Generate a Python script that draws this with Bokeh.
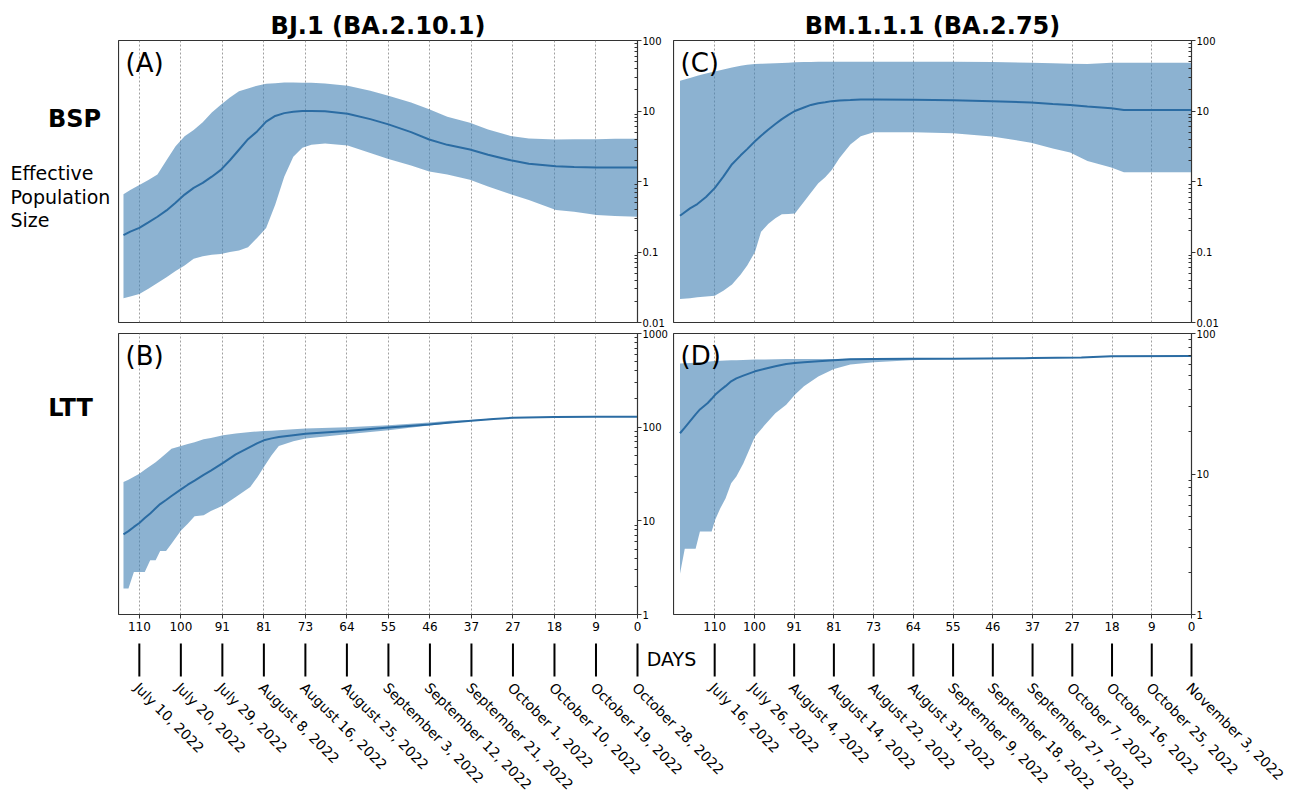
import math
from bokeh.plotting import figure
from bokeh.models import Range1d, FixedTicker, Label, CustomJSTickFormatter, Grid
from bokeh.layouts import row, column
from bokeh.embed import file_html
from bokeh.resources import INLINE
from bokeh.core.properties import value

FONT = "DejaVu Sans"
FILL = "steelblue"
LINE = "#2b6ca3"

# ---------------- data ----------------
day_ticks = [110 * (12 - i) / 12 for i in range(13)]
day_labels = ["110", "100", "91", "81", "73", "64", "55", "46", "37", "27", "18", "9", "0"]
dates_bj1 = ["July 10, 2022", "July 20, 2022", "July 29, 2022", "August 8, 2022", "August 16, 2022",
             "August 25, 2022", "September 3, 2022", "September 12, 2022", "September 21, 2022",
             "October 1, 2022", "October 10, 2022", "October 19, 2022", "October 28, 2022"]
dates_bm = ["July 16, 2022", "July 26, 2022", "August 4, 2022", "August 14, 2022", "August 22, 2022",
            "August 31, 2022", "September 9, 2022", "September 18, 2022", "September 27, 2022",
            "October 7, 2022", "October 16, 2022", "October 25, 2022", "November 3, 2022"]

# (A) BSP, BJ.1
a_days = [113.5, 112, 110, 108, 106, 104, 102, 100, 98, 96, 94, 92, 90, 88, 86, 84, 82, 80, 78, 76, 74, 72,
          69, 64, 59, 55, 50, 46, 42, 37, 33, 28, 24, 18, 14, 9, 5, 0]
a_median = [0.173, 0.195, 0.220, 0.263, 0.316, 0.389, 0.501, 0.652, 0.813, 0.955, 1.17, 1.46, 2.00, 2.82,
            3.98, 5.13, 7.08, 8.51, 9.33, 9.77, 10.0, 10.0, 9.89, 9.16, 7.67, 6.46, 5.01, 3.94, 3.31, 2.85,
            2.40, 2.00, 1.78, 1.64, 1.60, 1.58, 1.58, 1.58]
a_upper = [0.659, 0.759, 0.895, 1.05, 1.26, 2.00, 3.16, 4.37, 5.37, 6.92, 9.55, 12.3, 15.5, 19.1, 20.9, 22.9,
           24.3, 24.8, 25.4, 25.4, 25.1, 25.1, 24.5, 22.8, 19.3, 16.4, 13.2, 10.6, 8.32, 6.81, 5.47, 4.42,
           4.07, 3.94, 3.98, 3.98, 4.03, 4.03]
a_lower = [0.0220, 0.0234, 0.0254, 0.0302, 0.0363, 0.0437, 0.0537, 0.0646, 0.0804, 0.0871, 0.0912, 0.0933,
           0.100, 0.105, 0.117, 0.158, 0.219, 0.468, 1.17, 2.24, 3.02, 3.31, 3.45, 3.24, 2.54, 2.08, 1.69,
           1.39, 1.26, 1.06, 0.851, 0.661, 0.547, 0.394, 0.372, 0.334, 0.324, 0.316]

# (B) LTT, BJ.1
b_days = [113.5, 112.4, 111.2, 110.0, 108.8, 107.6, 106.4, 105.4, 104.1, 102.9, 100.8, 99.3, 97.8, 95.8,
          94.2, 91.5, 88.7, 85.5, 83.9, 82.5, 80.8, 79.2, 76.0, 73.3, 64.2, 55.0, 46.0, 41.3, 36.7, 31.8,
          27.6, 18.4, 9.2, 0]
b_median = [7.16, 7.76, 8.61, 9.48, 10.7, 12.0, 13.6, 15.1, 16.7, 18.4, 21.7, 24.3, 26.9, 30.9, 34.3, 41.5,
            51.3, 61.7, 67.6, 72.4, 75.9, 78.5, 82.2, 85.3, 91.2, 98.9, 107, 112, 117, 122, 126, 128, 129, 129]
b_upper = [26.0, 27.5, 29.5, 31.9, 35.1, 38.5, 42.2, 46.2, 52.5, 59.0, 63.1, 66.1, 69.2, 74.1, 76.7, 81.8,
           85.5, 88.7, 89.9, 91.2, 91.8, 92.7, 94.8, 96.6, 100, 105, 112, 117, 119, 124, 126, 128, 129, 129]
b_lower = [1.9, 1.9, 2.85, 2.85, 2.85, 3.8, 3.8, 4.75, 4.75, 5.7, 7.9, 9.3, 11.2, 11.5, 12.7, 14.6, 18.0,
           23.0, 29.4, 37.6, 50.1, 63.1, 70.6, 75.5, 83.9, 92.7, 104, 110, 117, 122, 125, 127, 129, 129]

# (C) BSP, BM.1.1.1
c_days = [118.0, 115.7, 114.0, 112, 110, 108, 106, 104, 102.5, 100.7, 99.3, 97.6, 96, 94.5, 93, 91.5, 89.4,
          87.8, 86.1, 84.5, 83, 81.2, 78.7, 76.3, 73.3, 64, 55, 46, 37, 32, 28, 24, 18.5, 15.6, 9.4, 0]
c_median = [0.327, 0.416, 0.479, 0.603, 0.805, 1.17, 1.76, 2.35, 2.88, 3.72, 4.47, 5.47, 6.53, 7.67, 8.81,
            10.0, 11.2, 12.2, 12.9, 13.3, 13.8, 14.1, 14.3, 14.5, 14.5, 14.4, 14.2, 13.7, 13.2, 12.6, 12.2,
            11.6, 10.9, 10.3, 10.3, 10.3]
c_upper = [26.9, 29.5, 31.6, 33.9, 36.3, 38.9, 41.3, 43.7, 45.2, 46.5, 46.8, 47.1, 47.4, 47.9, 48.4, 49.0,
           49.4, 49.7, 49.9, 50.0, 50.1, 50.1, 50.1, 50.1, 50.1, 50.1, 50.1, 49.5, 48.4, 47.6, 46.9, 46.5,
           48.5, 48.5, 48.5, 48.5]
c_lower = [0.0215, 0.0221, 0.0228, 0.0234, 0.0240, 0.0282, 0.0347, 0.0479, 0.0646, 0.100, 0.193, 0.251,
           0.302, 0.343, 0.347, 0.353, 0.518, 0.692, 0.946, 1.15, 1.45, 2.15, 3.34, 4.40, 5.01, 5.01, 4.85,
           4.35, 3.55, 2.95, 2.57, 1.95, 1.58, 1.35, 1.35, 1.35]

# (D) LTT, BM.1.1.1
d_days = [118.0, 116.9, 114.4, 113.4, 111.6, 110.7, 109.9, 108.7, 107.5, 106.2, 105.0, 103.4, 100.7, 98.4,
          96.0, 93.5, 91.5, 89.4, 86.1, 82.5, 78.7, 73.3, 64.8, 55.1, 38.6, 36.6, 25.4, 18.5, 0]
d_median = [19.5, 21.4, 26.6, 28.8, 32.0, 34.3, 36.6, 39.4, 42.2, 45.7, 47.9, 50.1, 53.8, 56.2, 58.5, 60.7,
            61.7, 62.4, 63.5, 64.6, 65.6, 65.9, 66.1, 66.2, 66.7, 67.0, 67.5, 68.9, 69.2]
d_upper = [61.1, 61.4, 62.0, 62.3, 63.0, 63.4, 63.8, 64.0, 64.2, 64.4, 64.6, 64.9, 65.2, 65.4, 65.6, 65.8,
           65.9, 65.9, 65.9, 65.9, 66.0, 66.2, 66.3, 66.4, 66.9, 67.2, 67.7, 69.1, 69.4]
d_lower = [1.95, 2.94, 2.94, 3.9, 3.9, 3.9, 4.7, 5.7, 6.7, 8.6, 9.6, 11.9, 18.5, 22.4, 27.1, 31.1, 36.6, 42.1,
           49.5, 56.0, 60.1, 62.4, 64.6, 66.0, 66.5, 66.9, 67.4, 68.8, 69.0]

# ---------------- geometry ----------------
LABEL_W = 118
FW_L, FW_R, BR = 519, 518, 36
TOP_B, FH_TOP, GAP_A, GAP_B, FH_BOT, BOT_B = 40, 282, 5, 6, 281, 26
X_START_L, X_START_R = 114.6, 119.5
TOTAL_W, BOTTOM_H = 1300, 158
COL_H = TOP_B + FH_TOP + GAP_A + GAP_B + FH_BOT + BOT_B


def log_ticker(lo_exp, hi_exp):
    majors = [10.0 ** e for e in range(lo_exp, hi_exp + 1)]
    minors = [m * 10.0 ** e for e in range(lo_exp, hi_exp) for m in range(2, 10)]
    return FixedTicker(ticks=majors, minor_ticks=minors)


def panel(days, med, lo, hi, xstart, fw, fh, lo_exp, hi_exp, title, tag, top, bottom, show_x_axis):
    kw = dict(title=title) if title else {}
    p = figure(frame_width=fw, frame_height=fh, x_range=Range1d(xstart, 0),
               y_range=Range1d(10.0 ** lo_exp, 10.0 ** hi_exp), y_axis_type="log",
               y_axis_location="right", x_axis_location="below" if show_x_axis else None,
               toolbar_location=None, output_backend="svg",
               min_border_left=0, min_border_right=BR, min_border_top=top, min_border_bottom=bottom, **kw)
    p.background_fill_color = "white"
    p.border_fill_color = "white"
    p.outline_line_color = "#333333"
    p.outline_line_width = 1.2

    p.varea(x=days, y1=lo, y2=hi, fill_color=FILL, fill_alpha=0.62)
    p.line(days, med, line_color=LINE, line_width=2)

    if show_x_axis:
        xa = p.xaxis[0]
        xa.ticker = FixedTicker(ticks=day_ticks)
        xa.major_label_overrides = {t: l for t, l in zip(day_ticks, day_labels)}
        xa.major_tick_in = 0
        xa.major_tick_out = 4
        xa.minor_tick_out = 0
        xa.minor_tick_in = 0
        xa.axis_line_color = None
        xa.major_tick_line_color = "#333333"
        xa.major_label_text_font = FONT
        xa.major_label_text_font_size = "12px"
        xa.major_label_text_color = "black"
        xa.major_label_standoff = 3

    for g in p.xgrid:
        g.visible = False
    p.ygrid.visible = False
    p.add_layout(Grid(dimension=0, ticker=FixedTicker(ticks=day_ticks), grid_line_color="#888888",
                      grid_line_dash="2 2", grid_line_width=0.8))

    ya = p.yaxis[0]
    ya.ticker = log_ticker(lo_exp, hi_exp)
    ya.formatter = CustomJSTickFormatter(code="return tick >= 1 ? tick.toFixed(0) : tick.toPrecision(1);")
    ya.major_label_text_font = FONT
    ya.major_label_text_font_size = "10px"
    ya.major_label_text_color = "black"
    ya.major_label_standoff = 1
    ya.major_tick_in = 0
    ya.major_tick_out = 4
    ya.minor_tick_in = 3
    ya.minor_tick_out = 0
    ya.axis_line_color = "#333333"
    ya.major_tick_line_color = "#333333"
    ya.minor_tick_line_color = "#333333"

    if title:
        p.title.text_font = FONT
        p.title.text_font_size = "24px"
        p.title.text_font_style = "bold"
        p.title.text_color = "black"
        p.title.align = "center"
        p.title.standoff = 2

    p.add_layout(Label(x=7, y=fh - 22, x_units="screen", y_units="screen", text=tag, text_color="black",
                       text_font=FONT, text_font_size="26px", text_baseline="middle"))
    return p


pa = panel(a_days, a_median, a_lower, a_upper, X_START_L, FW_L, FH_TOP, -2, 2,
           "BJ.1 (BA.2.10.1)", "(A)", TOP_B, GAP_A, False)
pb = panel(b_days, b_median, b_lower, b_upper, X_START_L, FW_L, FH_BOT, 0, 3,
           None, "(B)", GAP_B, BOT_B, True)
pc = panel(c_days, c_median, c_lower, c_upper, X_START_R, FW_R, FH_TOP, -2, 2,
           "BM.1.1.1 (BA.2.75)", "(C)", TOP_B, GAP_A, False)
pd = panel(d_days, d_median, d_lower, d_upper, X_START_R, FW_R, FH_BOT, 0, 2,
           None, "(D)", GAP_B, BOT_B, True)

# ---------------- left row labels ----------------
lab = figure(width=LABEL_W, height=COL_H, x_range=Range1d(0, LABEL_W), y_range=Range1d(COL_H, 0),
             toolbar_location=None, output_backend="svg", min_border=0)
lab.axis.visible = False
lab.grid.visible = False
lab.outline_line_color = None
lab.text(x=[74, 70], y=[118, 407], text=["BSP", "LTT"], text_font=value(FONT), text_font_size="24px",
         text_font_style="bold", text_align="center", text_baseline="middle", text_color="black")
lab.text(x=[10, 10, 10], y=[172, 196, 219], text=["Effective", "Population", "Size"], text_font=value(FONT),
         text_font_size="19px", text_align="left", text_baseline="middle", text_color="black")

# ---------------- bottom: day marks and dates ----------------
x0_left = LABEL_W + FW_L            # x of day 0, left column
x0_right = LABEL_W + FW_L + BR + FW_R
kL = FW_L / X_START_L
kR = FW_R / X_START_R
bot = figure(width=TOTAL_W, height=BOTTOM_H, x_range=Range1d(0, TOTAL_W), y_range=Range1d(BOTTOM_H, 0),
             toolbar_location=None, output_backend="svg", min_border=0)
bot.extra_x_ranges = {
    "L": Range1d(start=x0_left / kL, end=-(TOTAL_W - x0_left) / kL),
    "R": Range1d(start=x0_right / kR, end=-(TOTAL_W - x0_right) / kR),
}
bot.axis.visible = False
bot.grid.visible = False
bot.outline_line_color = None
for rng, dates in (("L", dates_bj1), ("R", dates_bm)):
    bot.segment(x0=day_ticks, y0=[3] * 13, x1=day_ticks, y1=[36] * 13, x_range_name=rng,
                line_color="black", line_width=2)
    bot.text(x=day_ticks, y=[39] * 13, text=dates, x_range_name=rng, angle=-math.pi / 4,
             x_offset=3, text_font=value(FONT), text_font_size="14px", text_align="left",
             text_baseline="top", text_color="black")
bot.text(x=[671], y=[18], text=["DAYS"], text_font=value(FONT), text_font_size="19px",
         text_align="center", text_baseline="middle", text_color="black")

layout = column(row(lab, column(pa, pb), column(pc, pd)), bot)
open("out.html", "w").write(file_html(layout, INLINE))
